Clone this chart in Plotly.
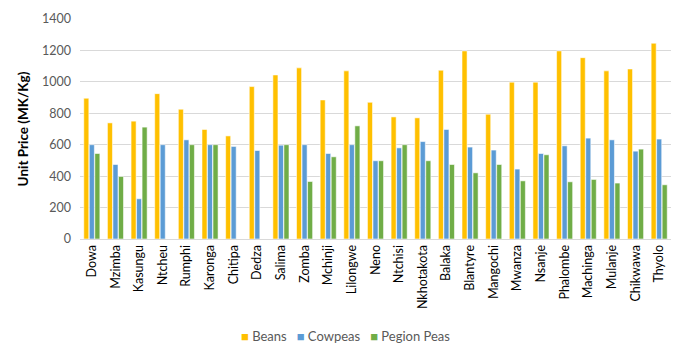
import plotly.graph_objects as go

districts = ["Dowa", "Mzimba", "Kasungu", "Ntcheu", "Rumphi", "Karonga", "Chitipa", "Dedza",
             "Salima", "Zomba", "Mchinji", "Lilongwe", "Neno", "Ntchisi", "Nkhotakota", "Balaka",
             "Blantyre", "Mangochi", "Mwanza", "Nsanje", "Phalombe", "Machinga", "Mulanje",
             "Chikwawa", "Thyolo"]
beans = [896, 739, 750, 925, 826, 697, 656, 970, 1044, 1089, 885, 1070, 870, 777, 771, 1074,
         1197, 794, 998, 998, 1197, 1154, 1070, 1082, 1246]
cowpeas = [600, 474, 256, 600, 631, 600, 589, 563, 597, 600, 544, 600, 498, 580, 620, 697,
           585, 566, 445, 544, 593, 642, 631, 559, 636]
pigeon_peas = [544, 398, 712, None, 600, 600, None, None, 600, 366, 523, 720, 498, 600, 498, 474,
               421, 474, 370, 536, 364, 379, 356, 572, 345]
y_ticks = [0, 200, 400, 600, 800, 1000, 1200, 1400]
series = [("Beans", beans, "#FFC000"), ("Cowpeas", cowpeas, "#5B9BD5"),
          ("Pegion Peas", pigeon_peas, "#70AD47")]

FONT = "Lato, 'Open Sans', sans-serif"
fig = go.Figure()
for name, vals, col in series:
    fig.add_trace(go.Bar(x=districts, y=vals, name=name, showlegend=False,
                         marker=dict(color=col, line=dict(color="rgba(255,255,255,0.7)", width=0.8))))

legend_text = "&nbsp;&nbsp;&nbsp;".join(
    f"<span style='color:{col}'>■</span> {name}" for name, _, col in series)

fig.update_layout(
    width=688, height=344,
    margin=dict(l=80, r=17, t=19, b=105, autoexpand=False),
    paper_bgcolor="white", plot_bgcolor="white",
    barmode="group", bargap=0.3, bargroupgap=0.08,
    font=dict(family=FONT, size=12, color="#595959"),
    showlegend=False,
    annotations=[dict(text=legend_text, xref="paper", yref="paper", x=0.449, y=-0.44,
                      xanchor="center", yanchor="middle", showarrow=False,
                      font=dict(size=13, color="#595959", family=FONT))],
)
fig.update_xaxes(tickangle=-90, tickfont=dict(size=12.5, color="#000000", family=FONT),
                 showline=True, linecolor="#D9D9D9", linewidth=1, ticks="", showgrid=False,
                 automargin=False)
fig.update_yaxes(range=[0, 1400], tickvals=y_ticks, tickfont=dict(size=12.5, color="#595959"),
                 showgrid=True, gridcolor="#D9D9D9", gridwidth=1, zeroline=False,
                 title=dict(text="<b>Unit Price (MK/Kg)</b>", font=dict(size=13.5, color="#000000"),
                            standoff=10),
                 ticks="", ticklabelstandoff=8, automargin=False)

fig.write_html("out.html")
